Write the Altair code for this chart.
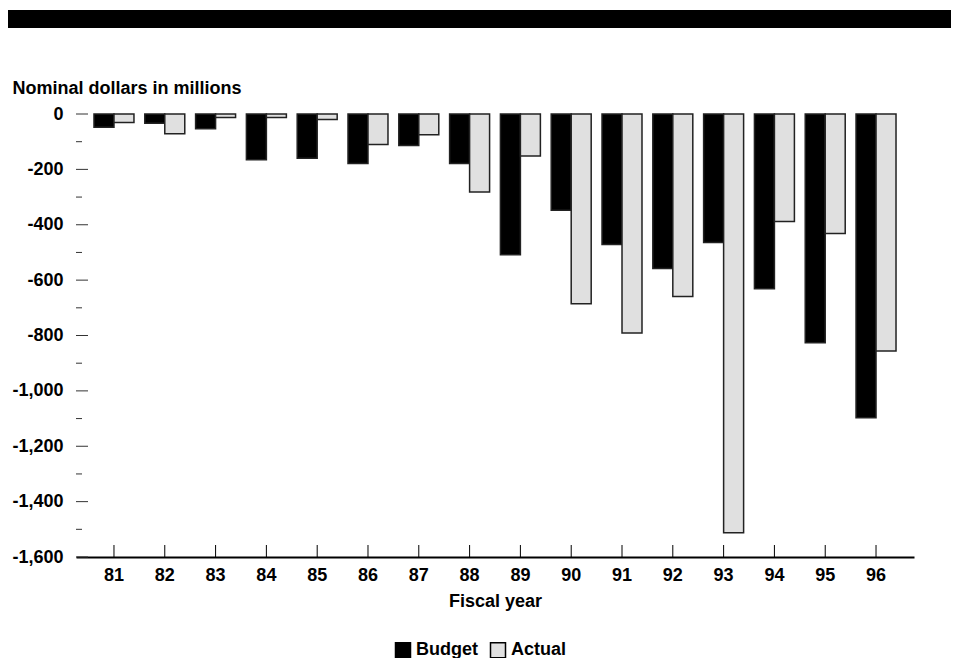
import altair as alt
import pandas as pd

years = ["81", "82", "83", "84", "85", "86", "87", "88",
         "89", "90", "91", "92", "93", "94", "95", "96"]
budget = [-48, -33, -53, -165, -160, -179, -114, -179,
          -508, -348, -471, -558, -464, -631, -826, -1097]
actual = [-31, -71, -13, -13, -20, -110, -75, -282,
          -152, -685, -791, -659, -1512, -388, -432, -856]
series = ["Budget", "Actual"]
colors = ["#000000", "#e0e0e0"]
major_ticks = [0, -200, -400, -600, -800, -1000, -1200, -1400, -1600]
minor_ticks = [-100, -300, -500, -700, -900, -1100, -1300, -1500]

W, H = 838, 443
FONT = "Liberation Sans"
FS = 18

rows = []
for i, y in enumerate(years):
    rows.append({"year": y, "series": "Budget", "value": budget[i]})
    rows.append({"year": y, "series": "Actual", "value": actual[i]})
df = pd.DataFrame(rows)

xscale = alt.Scale(domain=years, paddingInner=0.213, paddingOuter=0.354)
yscale = alt.Scale(domain=[-1600, 0], nice=False)

xaxis = alt.Axis(title="Fiscal year", labelAngle=0, ticks=False,
                 domain=True, domainColor="#000000", domainWidth=2,
                 labelFont=FONT, labelFontSize=FS, labelFontWeight="bold",
                 labelColor="#000000", labelPadding=9,
                 titleFont=FONT, titleFontSize=FS, titleFontWeight="bold",
                 titleColor="#000000", titlePadding=8)
yaxis = alt.Axis(values=major_ticks, ticks=False, domain=False, grid=False,
                 labelExpr="datum.value == 0 ? '0' : '-' + format(-datum.value, ',')",
                 labelFont=FONT, labelFontSize=FS, labelFontWeight="bold",
                 labelColor="#000000", labelPadding=13,
                 title="Nominal dollars in millions", titleAngle=0,
                 titleAlign="left", titleBaseline="middle",
                 titleX=-64, titleY=-26,
                 titleFont=FONT, titleFontSize=FS, titleFontWeight="bold",
                 titleColor="#000000")

bars = alt.Chart(df).mark_bar(stroke="#222222", strokeWidth=1.5).encode(
    x=alt.X("year:N", scale=xscale, sort=years, axis=xaxis),
    xOffset=alt.XOffset("series:N", sort=series, scale=alt.Scale(domain=series, paddingInner=0, paddingOuter=0)),
    y=alt.Y("value:Q", scale=yscale, axis=yaxis),
    color=alt.Color("series:N", sort=series,
                    scale=alt.Scale(domain=series, range=colors),
                    legend=alt.Legend(title=None, orient="none", direction="horizontal",
                                      legendX=318, legendY=527,
                                      symbolType="square", symbolSize=225,
                                      symbolStrokeColor="#000000", symbolStrokeWidth=1.5,
                                      symbolOpacity=1,
                                      labelFont=FONT, labelFontSize=FS, labelFontWeight="bold",
                                      labelColor="#000000", labelOffset=4,
                                      columnPadding=9)),
)

major = alt.Chart(pd.DataFrame({"value": major_ticks})).mark_rule(color="#333333", strokeWidth=1).encode(
    y=alt.Y("value:Q", scale=yscale, axis=yaxis),
    x=alt.value(0), x2=alt.value(12),
)
minor = alt.Chart(pd.DataFrame({"value": minor_ticks})).mark_rule(color="#333333", strokeWidth=1).encode(
    y=alt.Y("value:Q", scale=yscale, axis=yaxis),
    x=alt.value(0), x2=alt.value(6),
)
xticks = alt.Chart(pd.DataFrame({"year": years})).mark_rule(color="#000000", strokeWidth=1).encode(
    x=alt.X("year:N", scale=xscale, sort=years, axis=xaxis),
    y=alt.value(H - 12), y2=alt.value(H),
)
band = alt.Chart(pd.DataFrame({"a": [0]})).mark_rect(color="#000000").encode(
    x=alt.value(-68), x2=alt.value(W + 37),
    y=alt.value(-104), y2=alt.value(-86),
)

chart = alt.layer(bars, major, minor, xticks, band).properties(
    width=W, height=H,
    padding={"left": 0, "top": 2, "right": 0, "bottom": 0},
).configure_view(stroke=None).resolve_scale(x="shared", y="shared")

chart.save("out.html", embed_options={"renderer": "svg", "actions": False})
